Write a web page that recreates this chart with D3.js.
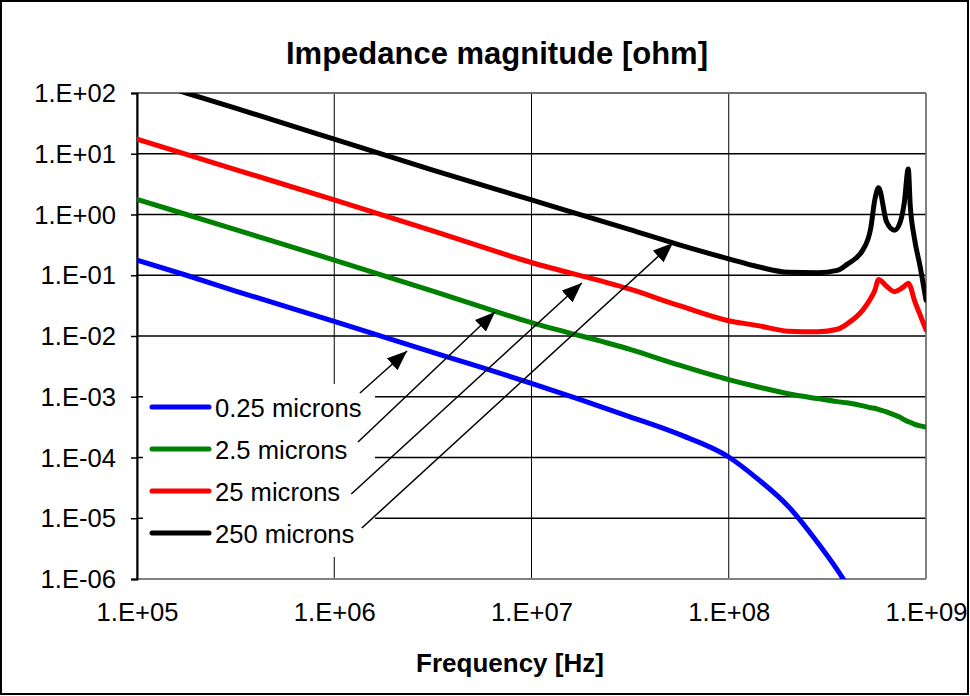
<!DOCTYPE html>
<html><head><meta charset="utf-8">
<script src="https://cdn.jsdelivr.net/npm/d3@7"></script>
<style>
html,body{margin:0;padding:0;background:#fff;}
svg{display:block;}
text{font-family:Arial,"Liberation Sans",sans-serif;fill:#000;}
</style></head>
<body>
<svg id="chart" width="970" height="696"></svg>
<script>
// ---- data ----
const freqHz = [1e5, 1.78e5, 3.16e5, 1e6, 3.16e6, 1e7, 3.16e7, 5.62e7, 1e8, 1.41e8, 2.0e8, 2.82e8, 3.55e8, 3.98e8, 4.79e8, 5.25e8, 5.50e8, 5.75e8, 6.31e8, 6.92e8, 7.41e8, 7.76e8, 8.13e8, 8.32e8, 8.71e8, 9.33e8, 1e9];
const seriesNames = ["0.25 microns", "2.5 microns", "25 microns", "250 microns"];
const seriesColors = ["#0000FF", "#008000", "#FF0000", "#000000"];
const z025 = [0.178, 0.1, 0.0550, 0.0174, 0.00537, 0.00166, 0.000468, 0.000240, 0.000102, 0.0000437, 0.0000158, 0.00000398, 0.00000141, 7.94e-7, 2.82e-7, null, null, null, null, null, null, null, null, null, null, null, null];
const z25 = [1.78, 1.0, 0.562, 0.178, 0.0550, 0.0166, 0.00603, 0.00331, 0.00191, 0.00145, 0.00112, 0.000933, 0.000832, 0.000794, 0.000708, 0.000661, 0.000646, 0.000617, 0.000562, 0.000501, 0.000457, 0.000417, 0.000389, 0.000380, 0.000355, 0.000331, 0.000316];
const z250 = [17.4, 9.77, 5.50, 1.74, 0.537, 0.162, 0.0589, 0.0316, 0.0178, 0.0148, 0.0120, 0.0117, 0.0129, 0.0158, 0.0269, 0.0417, 0.0562, 0.0851, 0.0661, 0.0537, 0.0589, 0.0661, 0.0741, 0.0661, 0.0398, 0.0224, 0.0126];
const z2500 = [182, 100, 56.2, 17.4, 5.37, 1.74, 0.562, 0.316, 0.186, 0.138, 0.112, 0.110, 0.120, 0.151, 0.263, 0.603, 1.74, 2.75, 0.759, 0.550, 0.759, 1.55, 5.62, 1.41, 0.427, 0.141, 0.0389];
const seriesValues = [z025, z25, z250, z2500];
const xTicks = [1e5, 1e6, 1e7, 1e8, 1e9];
const yTicks = [1e-6, 1e-5, 1e-4, 1e-3, 1e-2, 1e-1, 1e0, 1e1, 1e2];
// arrows from legend labels to the curves: [startFreq, startZ], [tipFreq, tipZ]
const arrowFrom = [[1.35e6, 1.15e-3], [1.32e6, 1.80e-4], [1.22e6, 2.51e-5], [1.38e6, 6.92e-6]];
const arrowTo = [[2.34e6, 5.66e-3], [6.53e6, 0.0248], [1.80e7, 0.0745], [5.21e7, 0.340]];
const titleText = "Impedance magnitude [ohm]";
const xTitle = "Frequency [Hz]";

// ---- layout ----
const svg = d3.select("#chart");
const L = 137, R = 926, T = 93, B = 579;
const x = d3.scaleLog().domain([1e5, 1e9]).range([L, R]);
const y = d3.scaleLog().domain([1e-6, 1e2]).range([B, T]);
const fmtExp = v => {
  const e = Math.round(Math.log10(v));
  return "1.E" + (e < 0 ? "-" : "+") + String(Math.abs(e)).padStart(2, "0");
};

svg.append("rect").attr("width", 970).attr("height", 696).attr("fill", "#fff");
// outer border
svg.append("rect").attr("x", 1).attr("y", 1).attr("width", 967).attr("height", 693)
  .attr("fill", "none").attr("stroke", "#000").attr("stroke-width", 2);

// title
svg.append("text").attr("x", 497).attr("y", 64).attr("text-anchor", "middle")
  .attr("font-size", 31).attr("font-weight", "bold").text(titleText);

// gridlines
const grid = svg.append("g");
grid.selectAll("line.h").data(yTicks).join("line").attr("class", "h")
  .attr("x1", L).attr("x2", R).attr("y1", d => y(d)).attr("y2", d => y(d))
  .attr("stroke", "#000").attr("stroke-width", 1.3);
grid.selectAll("line.v").data(xTicks).join("line").attr("class", "v")
  .attr("x1", d => x(d)).attr("x2", d => x(d)).attr("y1", T).attr("y2", B)
  .attr("stroke", "#000").attr("stroke-width", 1);

// legend background (covers gridlines)
const legend = svg.append("g");
legend.append("rect").attr("x", 143).attr("y", 384).attr("width", 232).attr("height", 173).attr("fill", "#fff");

// plot frame
svg.append("line").attr("x1", L).attr("x2", R).attr("y1", T).attr("y2", T).attr("stroke", "#808080").attr("stroke-width", 1.5);
svg.append("line").attr("x1", R).attr("x2", R).attr("y1", T).attr("y2", B).attr("stroke", "#808080").attr("stroke-width", 1.5);
svg.append("line").attr("x1", L).attr("x2", R).attr("y1", B).attr("y2", B).attr("stroke", "#808080").attr("stroke-width", 2);

// y axis
const yAxis = d3.axisLeft(y).tickValues(yTicks).tickFormat(fmtExp).tickSize(6).tickPadding(15);
const gy = svg.append("g").attr("transform", `translate(${L},0)`).call(yAxis);
gy.select(".domain").attr("stroke", "#000").attr("stroke-width", 2);
gy.selectAll(".tick line").attr("stroke", "#000").attr("stroke-width", 1.5);
gy.selectAll(".tick text").attr("font-size", 25.6).attr("font-family", "Arial, 'Liberation Sans', sans-serif").attr("dy", "0.34em");

// x axis (labels only)
const xAxis = d3.axisBottom(x).tickValues(xTicks).tickFormat(fmtExp).tickSize(0).tickPadding(0);
const gx = svg.append("g").attr("transform", `translate(0,${B})`).call(xAxis);
gx.select(".domain").remove();
gx.selectAll(".tick text").attr("font-size", 25.6).attr("font-family", "Arial, 'Liberation Sans', sans-serif").attr("dy", null).attr("y", 42);

svg.append("text").attr("x", 510).attr("y", 672).attr("text-anchor", "middle")
  .attr("font-size", 26).attr("font-weight", "bold").text(xTitle);

// clip
svg.append("clipPath").attr("id", "plotclip").append("rect").attr("x", L).attr("y", T).attr("width", R - L).attr("height", B - T);

const line = d3.line().defined(d => d[1] != null).x(d => x(d[0])).y(d => y(d[1])).curve(d3.curveMonotoneX);
const gLines = svg.append("g").attr("clip-path", "url(#plotclip)");
seriesValues.forEach((vals, i) => {
  gLines.append("path").datum(freqHz.map((f, j) => [f, vals[j]]))
    .attr("d", line).attr("fill", "none").attr("stroke", seriesColors[i])
    .attr("stroke-width", 5).attr("stroke-linejoin", "round").attr("stroke-linecap", "round");
});

// legend entries
seriesNames.forEach((name, i) => {
  const yy = 407 + i * 42;
  legend.append("line").attr("x1", 152).attr("x2", 209).attr("y1", yy).attr("y2", yy)
    .attr("stroke", seriesColors[i]).attr("stroke-width", 5).attr("stroke-linecap", "round");
  legend.append("text").attr("x", 215).attr("y", yy + 9.5).attr("font-size", 25.6).text(name);
});

// arrows
svg.append("defs").append("marker").attr("id", "ah").attr("viewBox", "0 0 20 16")
  .attr("refX", 20).attr("refY", 8).attr("markerWidth", 20).attr("markerHeight", 16)
  .attr("markerUnits", "userSpaceOnUse").attr("orient", "auto")
  .append("path").attr("d", "M0,0 L20,8 L0,16 Z").attr("fill", "#000");
arrowFrom.forEach((s, i) => {
  const t = arrowTo[i];
  svg.append("line").attr("x1", x(s[0])).attr("y1", y(s[1])).attr("x2", x(t[0])).attr("y2", y(t[1]))
    .attr("stroke", "#000").attr("stroke-width", 1.5).attr("marker-end", "url(#ah)");
});
</script>
</body></html>
